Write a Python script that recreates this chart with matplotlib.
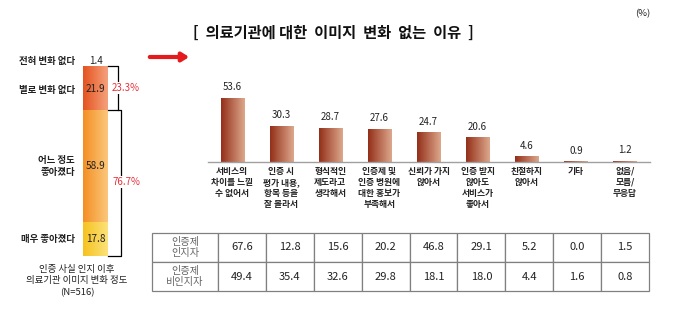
import numpy as np
import matplotlib
matplotlib.use("Agg")
import matplotlib.pyplot as plt
from matplotlib.colors import LinearSegmentedColormap

plt.rcParams["font.family"] = ["Noto Sans CJK KR", "DejaVu Sans"]

# ── data ─────────────────────────────────────────────────────────────────────
change_labels = ["매우 좋아졌다", "어느 정도\n좋아졌다", "별로 변화 없다", "전혀 변화 없다"]
change_values = [17.8, 58.9, 21.9, 1.4]
change_colors = [("#F6C21E", "#FCE27A"), ("#F48F22", "#FBC77C"),
                 ("#E5531F", "#F4A27C"), ("#E5531F", "#F4A27C")]
group_labels = ["76.7%", "23.3%"]

reasons = ["서비스의\n차이를 느낄\n수 없어서", "인증 시\n평가 내용,\n항목 등을\n잘 몰라서",
           "형식적인\n제도라고\n생각해서", "인증제 및\n인증 병원에\n대한 홍보가\n부족해서",
           "신뢰가 가지\n않아서", "인증 받지\n않아도\n서비스가\n좋아서",
           "친절하지\n않아서", "기타", "없음/\n모름/\n무응답"]
reason_total = [53.6, 30.3, 28.7, 27.6, 24.7, 20.6, 4.6, 0.9, 1.2]
row_names = ["인증제\n인지자", "인증제\n비인지자"]
aware = [67.6, 12.8, 15.6, 20.2, 46.8, 29.1, 5.2, 0.0, 1.5]
unaware = [49.4, 35.4, 32.6, 29.8, 18.1, 18.0, 4.4, 1.6, 0.8]

W, H = 679, 330


def px_rect(l, t, r, b):
    return [l / W, 1 - b / H, (r - l) / W, (b - t) / H]


def gradient_fill(ax, bars, c_left, c_right):
    cmap = LinearSegmentedColormap.from_list("g", [c_left, c_right])
    grad = np.linspace(0, 1, 64).reshape(1, -1)
    for bar in bars:
        x, y = bar.get_x(), bar.get_y()
        w, h = bar.get_width(), bar.get_height()
        im = ax.imshow(grad, extent=[x, x + w, y, y + h], aspect="auto",
                       cmap=cmap, zorder=bar.get_zorder() + 0.1, interpolation="bilinear")
        im.set_clip_path(bar)


fig = plt.figure(figsize=(W / 100, H / 100), dpi=100)

# ── left: stacked bar of image change ────────────────────────────────────────
axl = fig.add_axes(px_rect(83, 66, 108, 256))
bottoms = np.concatenate([[0], np.cumsum(change_values)[:-1]])
for lab, val, bot, (c1, c2) in zip(change_labels, change_values, bottoms, change_colors):
    b = axl.bar(0.5, val, 1.0, bottom=bot, color=c2, edgecolor="white", linewidth=0.6)
    gradient_fill(axl, b, c1, c2)
    mid = bot + val / 2
    if val < 5:
        axl.text(0.5, 102.8, f"{val}", ha="center", va="center", fontsize=7, color="#222")
        axl.text(-0.32, 102.8, lab, ha="right", va="center", fontsize=6.8,
                 fontweight="bold", color="#222")
    else:
        axl.text(0.5, mid, f"{val}", ha="center", va="center", fontsize=7.2, color="#222", zorder=5)
        axl.text(-0.32, mid, lab, ha="right", va="center", fontsize=6.8,
                 fontweight="bold", color="#222", linespacing=1.3)

top_split = change_values[0] + change_values[1]
axl.plot([1.0, 1.4, 1.4, 1.0], [100, 100, top_split, top_split], color="black", lw=0.9,
         clip_on=False)
axl.plot([1.4, 1.52, 1.52, 1.0], [top_split, top_split, 0, 0], color="black", lw=0.9,
         clip_on=False)
for txt, yy in zip(group_labels, [38.9, (100 + top_split) / 2]):
    axl.text(1.72, yy, txt, ha="center", va="center", fontsize=7, color="#E8303A",
             style="italic", zorder=6,
             bbox=dict(facecolor="white", edgecolor="none", pad=0.5))
axl.text(-0.24, -4.5, "인증 사실 인지 이후\n의료기관 이미지 변화 정도\n(N=516)",
         ha="center", va="top", fontsize=6.8, color="#222", style="italic", linespacing=1.4)
axl.set_xlim(0, 1)
axl.set_ylim(0, 100)
axl.axis("off")

# red arrow
fig.add_artist(matplotlib.patches.FancyArrowPatch(
    (147 / W, 1 - 57 / H), (192 / W, 1 - 57 / H), transform=fig.transFigure,
    arrowstyle="-|>,head_length=4,head_width=2.5", color="#E41A1C", lw=3, mutation_scale=1))

# ── right: reasons bar chart ────────────────────────────────────────────────
fig.text(193 / W, 1 - 33 / H, "[  의료기관에 대한  이미지  변화  없는  이유  ]",
         ha="left", va="center", fontsize=11, fontweight="bold", color="#111")
fig.text(643 / W, 1 - 14 / H, "(%)", ha="center", va="center", fontsize=6.8, color="#222")

axr = fig.add_axes(px_rect(208, 40, 650, 162))
x = np.arange(len(reasons))
bars = axr.bar(x, reason_total, 0.47, color="#C07050")
gradient_fill(axr, bars, "#94301A", "#DCA88C")
for xi, v, lab in zip(x, reason_total, reasons):
    axr.text(xi, v + 4.5, f"{v}", ha="center", va="bottom", fontsize=7, color="#222")
    axr.text(xi, -4, lab, ha="center", va="top", fontsize=6.3, color="#222",
             fontweight="bold", linespacing=1.3)
axr.set_xlim(-0.49, 8.51)
axr.set_ylim(0, 101.7)
for s in ["top", "left", "right"]:
    axr.spines[s].set_visible(False)
axr.spines["bottom"].set_color("#A0A0A0")
axr.spines["bottom"].set_linewidth(1.0)
axr.set_xticks([])
axr.set_yticks([])
axr.patch.set_alpha(0)

# ── table ───────────────────────────────────────────────────────────────────
axt = fig.add_axes(px_rect(152, 233, 649, 291))
axt.axis("off")
cells = [[row_names[0]] + [f"{v:.1f}" for v in aware],
         [row_names[1]] + [f"{v:.1f}" for v in unaware]]
col_w = [66] + [(649 - 218) / 9] * 9
table = axt.table(cellText=cells, colWidths=[c / sum(col_w) for c in col_w],
                  bbox=[0, 0, 1, 1], cellLoc="center")
table.auto_set_font_size(False)
for (r, c), cell in table.get_celld().items():
    cell.set_edgecolor("#808080")
    cell.set_linewidth(0.9)
    txt = cell.get_text()
    if c == 0:
        txt.set_fontsize(7.3)
        txt.set_color("#666666")
        txt.set_linespacing(1.05)
    else:
        txt.set_fontsize(8)
        txt.set_color("#222")

fig.savefig("out.png", dpi=100)
